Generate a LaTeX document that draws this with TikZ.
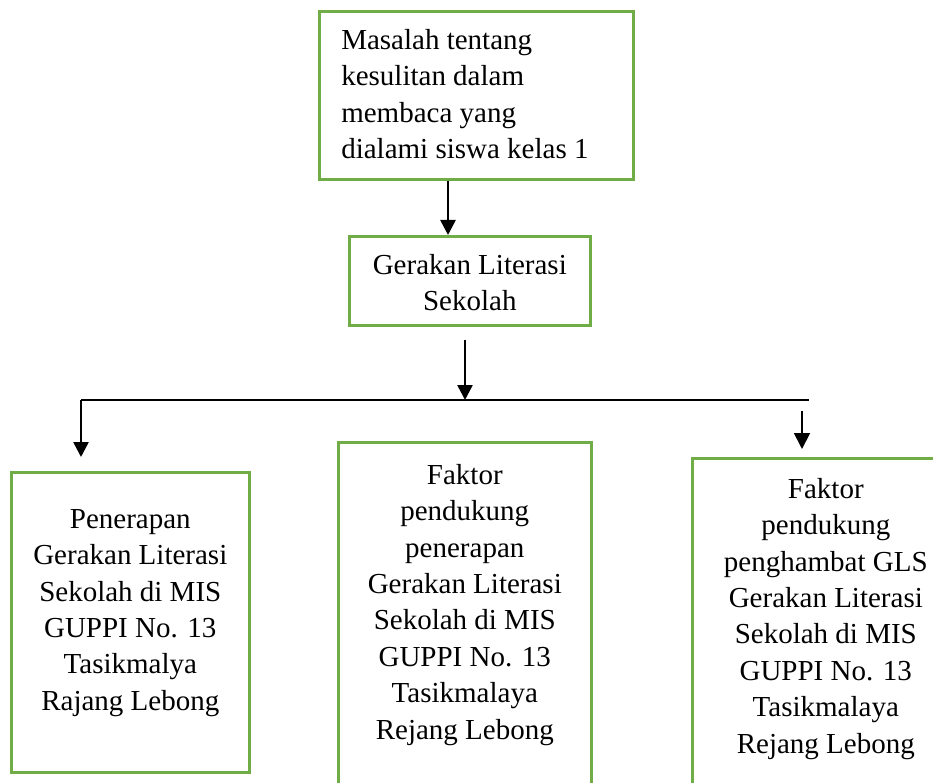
\documentclass[tikz,border=0pt]{standalone}
\usepackage{fontspec}
\setmainfont{Liberation Serif}
\usetikzlibrary{arrows.meta,calc}
\definecolor{boxgreen}{HTML}{70AD47}
\begin{document}
\begin{tikzpicture}[x=1pt,y=-1pt,
  gbox/.style={draw=boxgreen, line width=2.6pt, inner sep=0pt, anchor=north west,
    font=\fontsize{29}{36.4}\selectfont},
  arr/.style={line width=2.6pt, -{Triangle[width=15pt,length=15pt]}},
  thinarr/.style={line width=1.8pt, -{Triangle[width=16pt,length=16pt]}},
  branch/.style={line width=1.8pt}
]
\useasboundingbox (0,0) rectangle (933,783);
\clip (0,0) rectangle (933,783);

\node[gbox] (masalah) at (318,10) {\parbox[t][168pt][t]{314pt}{\raggedright\leftskip=22pt\rule{0pt}{38pt}Masalah tentang\\kesulitan dalam\\membaca yang\\dialami siswa kelas 1}};

\node[gbox] (gls) at (348,235) {\parbox[t][89pt][t]{241pt}{\centering\rule{0pt}{38pt}Gerakan Literasi\\Sekolah}};

\node[gbox] (pen) at (10,471) {\parbox[t][300pt][t]{238pt}{\centering\rule{0pt}{56pt}Penerapan\\Gerakan Literasi\\Sekolah di MIS\\GUPPI No. 13\\Tasikmalya\\Rajang Lebong}};

\node[gbox] (dukung) at (337,441) {\parbox[t][370pt][t]{253pt}{\centering\rule{0pt}{42pt}Faktor\\pendukung\\penerapan\\Gerakan Literasi\\Sekolah di MIS\\GUPPI No. 13\\Tasikmalaya\\Rejang Lebong}};

\node[gbox] (hambat) at (691,457) {\parbox[t][360pt][t]{267pt}{\centering\rule{0pt}{40pt}Faktor\\pendukung\\penghambat GLS\\Gerakan Literasi\\Sekolah di MIS\\GUPPI No. 13\\Tasikmalaya\\Rejang Lebong}};

\coordinate (a1) at (448,0);
\coordinate (a2) at (465,400);
\coordinate (hl) at (81,400);
\coordinate (hr) at (809,400);
\coordinate (r1) at (802,411);

\draw[arr] (masalah.south -| a1) -- (gls.north -| a1);
\draw[arr] ($(gls.south -| a2)+(0,13)$) -- (a2);
\draw[branch] (hl) -- (hr);
\draw[arr] (hl) -- ($(pen.north -| hl)+(0,-14)$);
\draw[thinarr] (r1) -- ($(hambat.north -| r1)+(0,-8)$);
\end{tikzpicture}
\end{document}
